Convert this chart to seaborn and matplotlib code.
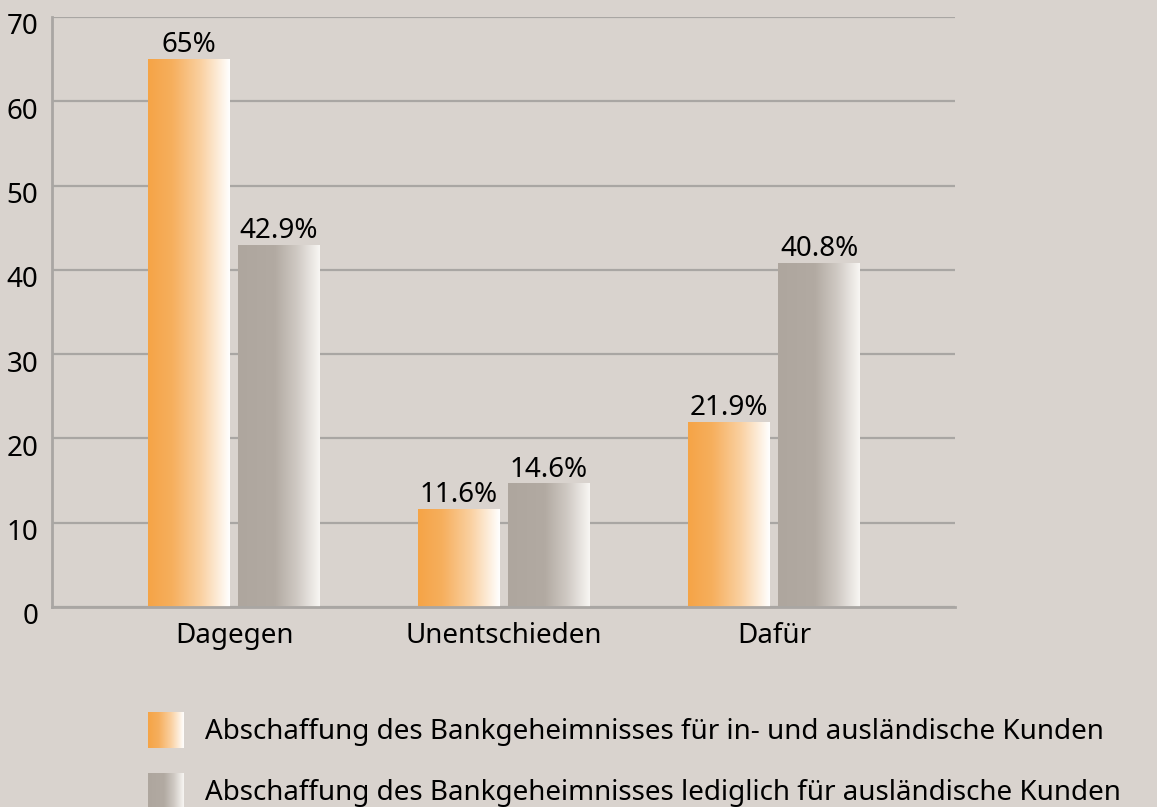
import numpy as np
import pandas as pd
import matplotlib
matplotlib.use("Agg")
import matplotlib.pyplot as plt
import matplotlib.transforms as mtransforms
from matplotlib.colors import LinearSegmentedColormap
import seaborn as sns

# data
categories = ["Dagegen", "Unentschieden", "Dafür"]
series_names = ["Abschaffung des Bankgeheimnisses für in- und ausländische Kunden",
                "Abschaffung des Bankgeheimnisses lediglich für ausländische Kunden"]
values_inland = [65, 11.6, 21.9]
values_ausland = [42.9, 14.6, 40.8]
y_ticks = [0, 10, 20, 30, 40, 50, 60, 70]

df = pd.DataFrame({
    "Kategorie": categories * 2,
    "Serie": [series_names[0]] * 3 + [series_names[1]] * 3,
    "Wert": values_inland + values_ausland,
})

bg = "#D9D3CE"
grid_col = "#A9A6A3"
fs = 20

sns.set_theme(style="white")
plt.rcParams["font.family"] = ["Noto Sans", "DejaVu Sans"]

cmap_orange = LinearSegmentedColormap.from_list(
    "orange", [(0, "#F5A446"), (0.3, "#F6AF5E"), (0.65, "#FAD1A2"), (1, "#FFFFFF")])
cmap_gray = LinearSegmentedColormap.from_list(
    "gray", [(0, "#AEA69E"), (0.45, "#B2AAA2"), (0.72, "#CFC9C3"), (1, "#F8F6F3")])
grad = np.linspace(0, 1, 256).reshape(1, -1)

fig = plt.figure(figsize=(11.57, 8.07), dpi=100, facecolor=bg)
ax = fig.add_axes([52 / 1157, 200 / 807, 903 / 1157, 590 / 807])
ax.set_facecolor(bg)

sns.barplot(data=df, x="Kategorie", y="Wert", hue="Serie", order=categories,
            hue_order=series_names, width=0.667, gap=0.09,
            palette=["#F5A446", "#AEA69E"], ax=ax, legend=False)

ax.set_yticks(y_ticks)
ax.yaxis.grid(True, color=grid_col, linewidth=1.6)
ax.set_axisbelow(True)
for s in ["top", "right"]:
    ax.spines[s].set_visible(False)
for s in ["left", "bottom"]:
    ax.spines[s].set_color(grid_col)
    ax.spines[s].set_linewidth(2)
ax.set_xlabel("")
ax.set_ylabel("")
ax.tick_params(axis="both", length=0, labelsize=fs, colors="black")
ax.tick_params(axis="y", pad=10)
ax.tick_params(axis="x", pad=11)
offset = mtransforms.ScaledTranslation(0, -7 / 100, fig.dpi_scale_trans)
for lab in ax.get_yticklabels():
    lab.set_transform(lab.get_transform() + offset)

# gradient fill on every bar
for cont, cmap in zip(ax.containers, [cmap_orange, cmap_gray]):
    for bar in cont:
        x, w, h = bar.get_x(), bar.get_width(), bar.get_height()
        bar.set_facecolor("none")
        bar.set_edgecolor("none")
        ax.imshow(grad, cmap=cmap, aspect="auto", extent=[x, x + w, 0, h],
                  zorder=2, interpolation="bicubic")
    ax.bar_label(cont, labels=[f"{b.get_height():g}%" for b in cont],
                 padding=0, fontsize=fs, color="black")

ax.set_xlim(-0.674, 2.670)
ax.set_ylim(0, 70)

# legend with gradient swatches
for i, (name, cmap) in enumerate(zip(series_names, [cmap_orange, cmap_gray])):
    ytop = 712 + i * 61
    sw = fig.add_axes([148 / 1157, 1 - (ytop + 36) / 807, 36 / 1157, 36 / 807])
    sw.imshow(grad, cmap=cmap, aspect="auto", interpolation="bicubic")
    sw.axis("off")
    fig.text(205 / 1157, 1 - (ytop + 20) / 807, name, fontsize=fs,
             va="center", ha="left", color="black")

fig.savefig("out.png", dpi=100, facecolor=bg)
